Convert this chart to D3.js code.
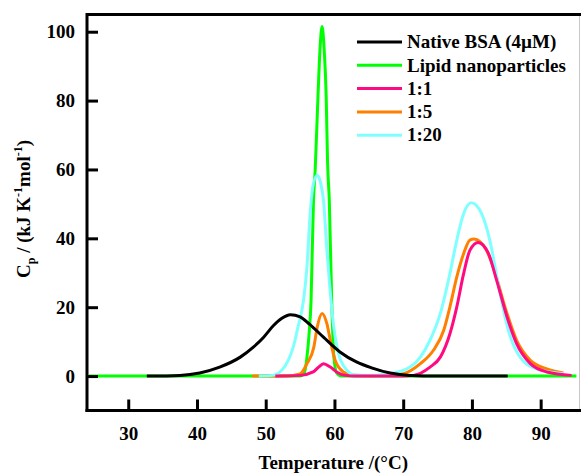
<!DOCTYPE html>
<html>
<head>
<meta charset="utf-8">
<script src="https://cdn.jsdelivr.net/npm/d3@7/dist/d3.min.js"></script>
<style>
  html, body { margin: 0; padding: 0; background: #fff; }
  svg { display: block; }
  text { font-family: "Liberation Serif", "Times New Roman", serif; font-weight: bold; fill: #000; }
</style>
</head>
<body>
<div id="chart"></div>
<script>
// Differential scanning calorimetry traces: temperature (°C) vs Cp (kJ K^-1 mol^-1)
const seriesNames = ["Native BSA (4\u00B5M)", "Lipid nanoparticles", "1:1", "1:5", "1:20"];
const seriesColors = ["#000000", "#00ff00", "#ff0a80", "#ff8000", "#80ffff"];

const nativeBSA = [
  [32.7, 0], [37.5, 0.2], [40.4, 0.9], [43.3, 2.6], [46.3, 5.5], [48.2, 8.4], [49.7, 11.3],
  [51.1, 14.6], [52.3, 16.7], [53.6, 17.8], [55.0, 17.2], [56.4, 15.0],
  [58.4, 11.3], [60.8, 7.0], [63.2, 4.1], [65.4, 2.4], [68.1, 0.9], [71, 0.2], [75, 0], [85.2, 0]
];
const lipidNP = [
  [24.3, 0], [40, 0], [55, 0], [55.6, 0.8], [56.0, 5.5], [56.3, 12], [56.6, 22], [56.95, 51],
  [57.2, 60], [57.6, 81], [57.9, 95], [58.2, 101.5], [58.5, 95], [58.8, 81], [59.0, 62],
  [59.25, 51], [59.6, 22], [59.9, 6], [60.3, 1], [61, 0], [80, 0], [95.2, 0]
];
const ratio1to1 = [
  [51.4, 0], [55.0, 0.2], [56.9, 1.2], [57.7, 2.6], [58.4, 3.6], [59.4, 2.6], [60.3, 1.2],
  [61.6, 0.2], [63, 0], [70, 0], [71.5, 0.2], [73.9, 2.6], [75.4, 5.5], [76.8, 12.3],
  [77.8, 20.1], [78.8, 29.8], [79.7, 36.5], [80.9, 38.8], [82.4, 35.6], [83.6, 27.8],
  [85.1, 17.2], [86.5, 9.4], [88.5, 3.6], [90.9, 1.2], [94.5, 0.2]
];
const ratio1to5 = [
  [48.0, 0], [53, 0], [55.0, 0.6], [56.0, 3.6], [57.0, 8.4], [57.5, 14.3], [58.2, 18.2],
  [58.9, 15.2], [59.4, 10.4], [60.1, 4.6], [61.3, 1.2], [62.5, 0.3], [65, 0.1], [70.0, 0.7],
  [72.5, 3.6], [74.4, 7.5], [75.9, 13.3], [76.8, 20.1], [77.8, 28.8], [78.8, 35.6],
  [79.7, 39.5], [80.3, 39.8], [82.1, 36.6], [83.4, 29.8], [84.8, 20.1], [86.5, 10.4],
  [88.5, 4.6], [90.9, 2.1], [93.3, 0.9]
];
const ratio1to20 = [
  [49.0, 0], [51, 0.2], [52.1, 1.2], [53.3, 4.6], [54.0, 8.4], [54.7, 14.3], [55.5, 22],
  [56.0, 31.7], [56.4, 45.3], [56.9, 55.5], [57.5, 58.3], [58.0, 56], [58.4, 51.1],
  [58.9, 36.6], [59.4, 24], [59.9, 14.3], [60.6, 6.5], [61.8, 1.7], [63.0, 0.3], [65, 0.2],
  [68.1, 0.7], [71.0, 2.6], [72.5, 5.5], [73.9, 10.4], [75.4, 18.2], [76.8, 29.8],
  [77.8, 39.5], [78.8, 47.2], [79.9, 50.3], [81.4, 47.2], [82.6, 39.5], [83.9, 25.9],
  [85.3, 13.3], [87.0, 5.5], [89.4, 2.1], [93.3, 0.7]
];

const xTicks = [30, 40, 50, 60, 70, 80, 90];
const yTicks = [0, 20, 40, 60, 80, 100];
const xTitle = "Temperature /(\u00B0C)";

const W = 581, H = 473;
const plot = { left: 87, right: 579.5, top: 14.5, bottom: 410.5 };

const x = d3.scaleLinear().domain([24, 95.65]).range([plot.left, plot.right]);
const y = d3.scaleLinear().domain([-10, 105]).range([plot.bottom, plot.top]);

const svg = d3.select("#chart").append("svg").attr("width", W).attr("height", H);

// frame: faint right edge, bold top/left/bottom
svg.append("line").attr("x1", plot.right).attr("x2", plot.right).attr("y1", plot.top).attr("y2", plot.bottom)
  .attr("stroke", "#c8c8c8").attr("stroke-width", 1);
svg.append("line").attr("x1", plot.left).attr("x2", W).attr("y1", plot.top).attr("y2", plot.top)
  .attr("stroke", "#000").attr("stroke-width", 3);

// curves (drawing order decides what sits on top)
const line = d3.line().x(d => x(d[0])).y(d => y(d[1])).curve(d3.curveMonotoneX);
const drawOrder = [
  [lipidNP, 1], [ratio1to5, 3], [ratio1to20, 4], [ratio1to1, 2], [nativeBSA, 0]
];
drawOrder.forEach(([data, i]) => {
  svg.append("path").datum(data).attr("d", line)
    .attr("fill", "none").attr("stroke", seriesColors[i])
    .attr("stroke-width", 3).attr("stroke-linejoin", "round").attr("stroke-linecap", "butt");
});

// axes with inward ticks
const xAxis = d3.axisBottom(x).tickValues(xTicks).tickSizeInner(-11).tickSizeOuter(0).tickPadding(16);
const gx = svg.append("g").attr("transform", `translate(0,${plot.bottom})`).call(xAxis);
const yAxis = d3.axisLeft(y).tickValues(yTicks).tickSizeInner(-11).tickSizeOuter(0).tickPadding(12);
const gy = svg.append("g").attr("transform", `translate(${plot.left},0)`).call(yAxis);

[gx, gy].forEach(g => {
  g.select(".domain").attr("stroke", "#000").attr("stroke-width", 3);
  g.selectAll(".tick line").attr("stroke", "#000").attr("stroke-width", 3);
  g.selectAll(".tick text").attr("font-family", "Liberation Serif, serif")
    .attr("font-weight", "bold").attr("font-size", 19).attr("fill", "#000");
});
gx.select(".domain").attr("d", `M${plot.left - 1.5},0H${W}`);
gy.select(".domain").attr("d", `M0,${plot.top - 1.5}V${plot.bottom + 1.5}`);

// axis titles
svg.append("text").attr("x", (plot.left + plot.right) / 2).attr("y", 469)
  .attr("text-anchor", "middle").attr("font-size", 19).text(xTitle);

const yt = svg.append("text").attr("transform", "translate(29.5,209) rotate(-90)")
  .attr("text-anchor", "middle").attr("font-size", 19);
yt.append("tspan").text("C");
yt.append("tspan").attr("font-size", 12).attr("dy", 5).text("p");
yt.append("tspan").attr("dy", -5).text(" / (kJ K");
yt.append("tspan").attr("font-size", 12).attr("dy", -8).text("-1");
yt.append("tspan").attr("dy", 8).text("mol");
yt.append("tspan").attr("font-size", 12).attr("dy", -8).text("-1");
yt.append("tspan").attr("dy", 8).text(")");

// legend
const legendY0 = 42, legendStep = 23.3;
seriesNames.forEach((name, i) => {
  const ly = legendY0 + i * legendStep;
  svg.append("line").attr("x1", 357).attr("x2", 402).attr("y1", ly).attr("y2", ly)
    .attr("stroke", seriesColors[i]).attr("stroke-width", 3);
  svg.append("text").attr("x", 407).attr("y", ly).attr("dy", "0.33em")
    .attr("font-size", 19).text(name);
});
</script>
</body>
</html>
